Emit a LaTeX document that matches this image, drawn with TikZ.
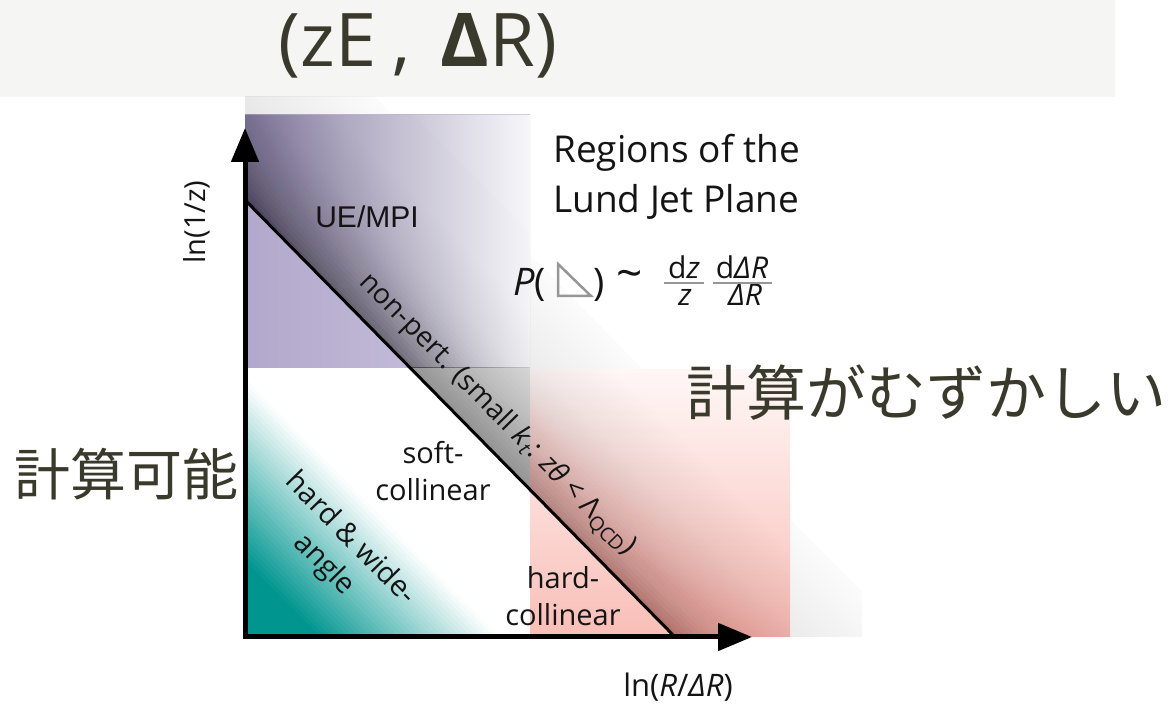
\documentclass[tikz,border=0pt]{standalone}
\usepackage{fontspec}
\setmainfont{Open Sans}
\newfontfamily\cjkfont{Noto Sans CJK JP}
\newfontfamily\arialfont{Liberation Sans}
\usetikzlibrary{arrows.meta}
\definecolor{olive}{RGB}{58,58,44}
\definecolor{hdr}{RGB}{245,245,244}
\definecolor{pdark}{RGB}{140,130,166}
\definecolor{pwhite}{RGB}{247,247,250}
\definecolor{purL}{RGB}{178,168,203}
\definecolor{purR}{RGB}{206,199,226}
\definecolor{tealc}{RGB}{0,149,143}
\definecolor{pinkb}{RGB}{249,190,183}
\definecolor{pinkt}{RGB}{254,247,246}
\definecolor{redk}{RGB}{120,40,35}
\definecolor{trigray}{RGB}{150,150,150}
\tikzset{
  normframe/.style={shift={(245,504)}, rotate=-45.47},
  lbl/.style={text=black!92, inner sep=0pt, font=\fontsize{29}{37}\selectfont},
  jp/.style={text=olive, inner sep=0pt},
  formula/.style={text=black!92, inner sep=0pt},
  fracbar/.style={draw=trigray, line width=2pt},
}
\begin{document}
\begin{tikzpicture}[x=1pt,y=1pt]
\useasboundingbox (0,0) rectangle (1175,704);
\fill[white] (0,0) rectangle (1175,704);
\fill[hdr] (0,607) rectangle (1115,704);

% faint global band along the diagonal
\begin{scope}
 \clip (245,67) rectangle (862,607);
 \begin{scope}[normframe]
  \foreach \k in {0,...,32}{
   \pgfmathsetmacro\mFa{0.115-0.1*(5*\k+2.5)/165}
   \pgfmathsetmacro\mFb{(\k>31)?0:(0.115-0.1*(5*\k+7.5)/165)}
   \pgfmathsetmacro\mal{1-(1-\mFa)/(1-\mFb)}
   \pgfmathsetmacro\mtop{5*\k+5}
   \fill[black,opacity=\mal] (-1500,0) rectangle (1500,\mtop);
  }
 \end{scope}
\end{scope}

% purple region
\shade[left color=purL, right color=purR] (245,336) rectangle (530,589);
\coordinate (pa) at (245,504);
\coordinate (pb) at (245,589);
\coordinate (pc) at (530,589);
\coordinate (pd) at (530,336);
\coordinate (pe) at (410.3,336);
\shade[left color=pdark, right color=pwhite] (pa) -- (pb) -- (pc) -- (pd) -- (pe) -- cycle;
\begin{scope}
 \clip (245,336) rectangle (530,589);
 \begin{scope}[normframe]
  \foreach \k in {0,...,44}{
   \pgfmathsetmacro\mFa{0.36*exp(-(4*\k+2)/45)}
   \pgfmathsetmacro\mFb{(\k>43)?0:(0.36*exp(-(4*\k+6)/45))}
   \pgfmathsetmacro\mal{1-(1-\mFa)/(1-\mFb)}
   \pgfmathsetmacro\mtop{4*\k+4}
   \fill[black,opacity=\mal] (-1500,0) rectangle (1500,\mtop);
  }
 \end{scope}
\end{scope}

% teal region
\fill[white] (245,67) rectangle (530,336);
\begin{scope}
 \clip (245,67) rectangle (530,336);
 \begin{scope}[normframe]
  \foreach \k in {0,...,50}{
   \pgfmathsetmacro\mtv{min(100,(2+4*\k)/1.3)}
   \pgfmathsetmacro\mtop{-125-4*\k}
   \fill[tealc!\mtv!white] (-1500,-1500) rectangle (1500,\mtop);
  }
  \foreach \k in {0,...,24}{
   \pgfmathsetmacro\mFa{0.38-0.0026*(4*\k+2)}
   \pgfmathsetmacro\mFb{(\k>23)?0:(0.38-0.0026*(4*\k+6))}
   \pgfmathsetmacro\mal{1-(1-\mFa)/(1-\mFb)}
   \pgfmathsetmacro\mtop{4*\k+4}
   \fill[black,opacity=\mal] (-1500,0) rectangle (1500,\mtop);
  }
 \end{scope}
\end{scope}

% pink region
\shade[top color=pinkt, bottom color=pinkb] (530,67) rectangle (790,334);
\begin{scope}
 \clip (530,67) rectangle (790,334);
 \begin{scope}[normframe]
  \foreach \k in {0,...,67}{
   \pgfmathsetmacro\mFa{0.42*exp(-(4*\k+2)/50)}
   \pgfmathsetmacro\mFb{(\k>66)?0:(0.42*exp(-(4*\k+6)/50))}
   \pgfmathsetmacro\mal{1-(1-\mFa)/(1-\mFb)}
   \pgfmathsetmacro\mtop{4*\k+4}
   \fill[redk,opacity=\mal] (-1500,0) rectangle (1500,\mtop);
  }
 \end{scope}
\end{scope}

% diagonal and axes
\coordinate (lt) at (245,504);
\coordinate (lb) at (675,67);
\draw[line width=3pt] (lt) -- (lb);
\coordinate (O) at (245,67);
\coordinate (ytip) at (245,576);
\coordinate (xtip) at (752,67);
\draw[line width=5pt, {Triangle[length=34pt,width=27pt]}-{Triangle[length=34pt,width=27pt]}] (ytip) -- (O) -- (xtip);

% title
\node[text=olive, inner sep=0pt, anchor=base, font=\fontsize{74}{78}\selectfont] (title) at (418,637)
  {(zE\hspace{16pt},\hspace{30pt}\textbf{Δ}R)};

% region labels
\node[lbl, font=\arialfont\fontsize{30}{36}\selectfont] (ue) at (367,487) {UE/MPI};
\node[lbl, align=center] (soft) at (433,233) {soft-\\collinear};
\node[lbl, align=center] (hc) at (563,108) {hard-\\collinear};
\node[lbl, align=center, rotate=-45.47] (hw) at (337,152) {hard \& wide-\\angle};
\node[lbl, rotate=-45.47, font=\fontsize{28}{30}\selectfont] (np) at (497,289)
  {non-pert. (small \textit{k}\textsubscript{\textit{t}}: \textit{zθ} < Λ\textsubscript{QCD})};

% axis labels
\node[lbl, rotate=90] (ylab) at (197,482) {ln(1/z)};
\node[lbl, anchor=base, font=\fontsize{31}{36}\selectfont] (xlab) at (678,8) {ln(\textit{R}/\textit{ΔR})};

% heading
\node[formula, anchor=base west, font=\fontsize{37}{44}\selectfont] (reg1) at (553,541) {Regions of the};
\node[formula, anchor=base west, font=\fontsize{37}{44}\selectfont] (reg2) at (553,491) {Lund Jet Plane};

% formula
\node[formula, anchor=base west, font=\fontsize{38}{44}\selectfont] (P) at (513,408) {\textit{P}(};
\coordinate (t1) at (558,440);
\coordinate (t2) at (558,408);
\coordinate (t3) at (591,408);
\draw[draw=trigray, line width=2.5pt, line join=miter] (t1) -- (t2) -- (t3) -- cycle;
\node[formula, anchor=base west, font=\fontsize{38}{44}\selectfont] (rp) at (593,408) {)};
\node[formula, font=\fontsize{46}{50}\selectfont] (tilde) at (630,424) {\textasciitilde};
\node[formula, anchor=base, font=\fontsize{30}{34}\selectfont] (n1) at (684,425) {d\textit{z}};
\node[formula, anchor=base, font=\fontsize{30}{34}\selectfont] (d1) at (685,398) {\textit{z}};
\coordinate (b1l) at (664,421);
\coordinate (b1r) at (704,421);
\draw[fracbar] (b1l) -- (b1r);
\node[formula, anchor=base, font=\fontsize{30}{34}\selectfont] (n2) at (742,425) {d\textit{ΔR}};
\node[formula, anchor=base, font=\fontsize{30}{34}\selectfont] (d2) at (745,398) {\textit{ΔR}};
\coordinate (b2l) at (713,421);
\coordinate (b2r) at (772,421);
\draw[fracbar] (b2l) -- (b2r);

% Japanese labels
\node[jp, font=\cjkfont\fontsize{60}{64}\selectfont] (hardjp) at (926,311) {計算がむずかしい};
\node[jp, font=\cjkfont\fontsize{56}{60}\selectfont] (easyjp) at (126,230) {計算可能};
\end{tikzpicture}
\end{document}
